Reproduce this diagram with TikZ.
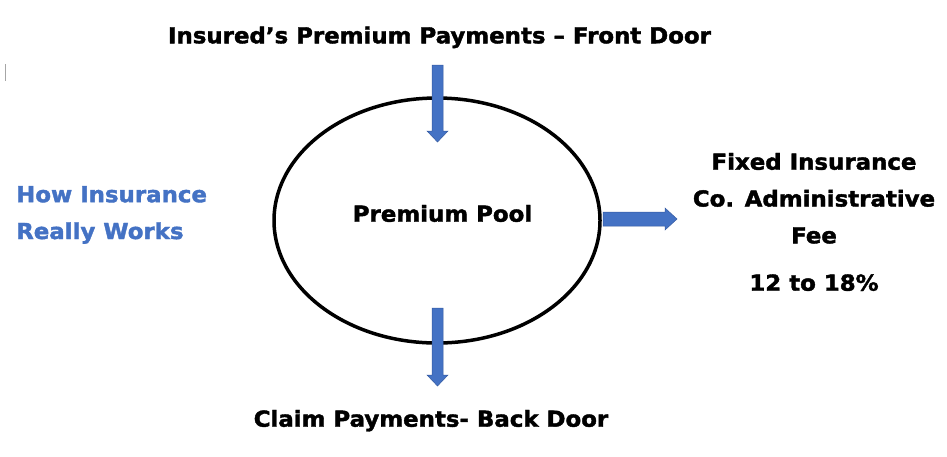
\documentclass[tikz,border=0pt]{standalone}
\usepackage{fontspec}
\setmainfont{DejaVu Sans}[FakeStretch=1.04, BoldFeatures={FakeBold=1.8}]
\usetikzlibrary{positioning}
\definecolor{officeblue}{RGB}{68,114,196}
\definecolor{arrowedge}{RGB}{52,90,160}

\begin{document}
\begin{tikzpicture}[x=1pt, y=-1pt,
    heading/.style={font=\bfseries\fontsize{22}{36.8}\selectfont, align=center, inner sep=0pt, anchor=base},
    blockarrow/.style={fill=officeblue, draw=arrowedge, line width=0.5pt}
]
    \useasboundingbox (0,0) rectangle (947,456);

    % Pool
    \draw[line width=3.5pt] (437,220.5) ellipse [x radius=163, y radius=122.5];
    \node[heading] (pool) at (442.5,221.7) {Premium Pool};

    % Texts
    \node[heading] (front) at (439.5,43.3) {Insured’s Premium Payments – Front Door};
    \node[heading] (back) at (431,426.7) {Claim Payments- Back Door};
    \node[heading, text=officeblue, align=left, anchor=base west] (how) at (16,239) {How Insurance\\Really Works};
    \node[heading] (fee) at (814,243.3) {Fixed Insurance\\Co. Administrative\\Fee};
    \node[heading] (pct) at (814,290.7) {12 to 18\%};

    % Block arrows
    \draw[blockarrow] (432,65) -- (443,65) -- (443,131) -- (448,131) -- (437.5,142)
        -- (427,131) -- (432,131) -- cycle;
    \draw[blockarrow] (432,308) -- (443,308) -- (443,375) -- (448,375) -- (437.5,386)
        -- (427,375) -- (432,375) -- cycle;
    \draw[blockarrow] (603,212) -- (665,212) -- (665,208) -- (677,219) -- (665,230)
        -- (665,226) -- (603,226) -- cycle;

    % cursor mark
    \draw[gray!70, line width=0.8pt] (5,64) -- (5,81);
\end{tikzpicture}
\end{document}
